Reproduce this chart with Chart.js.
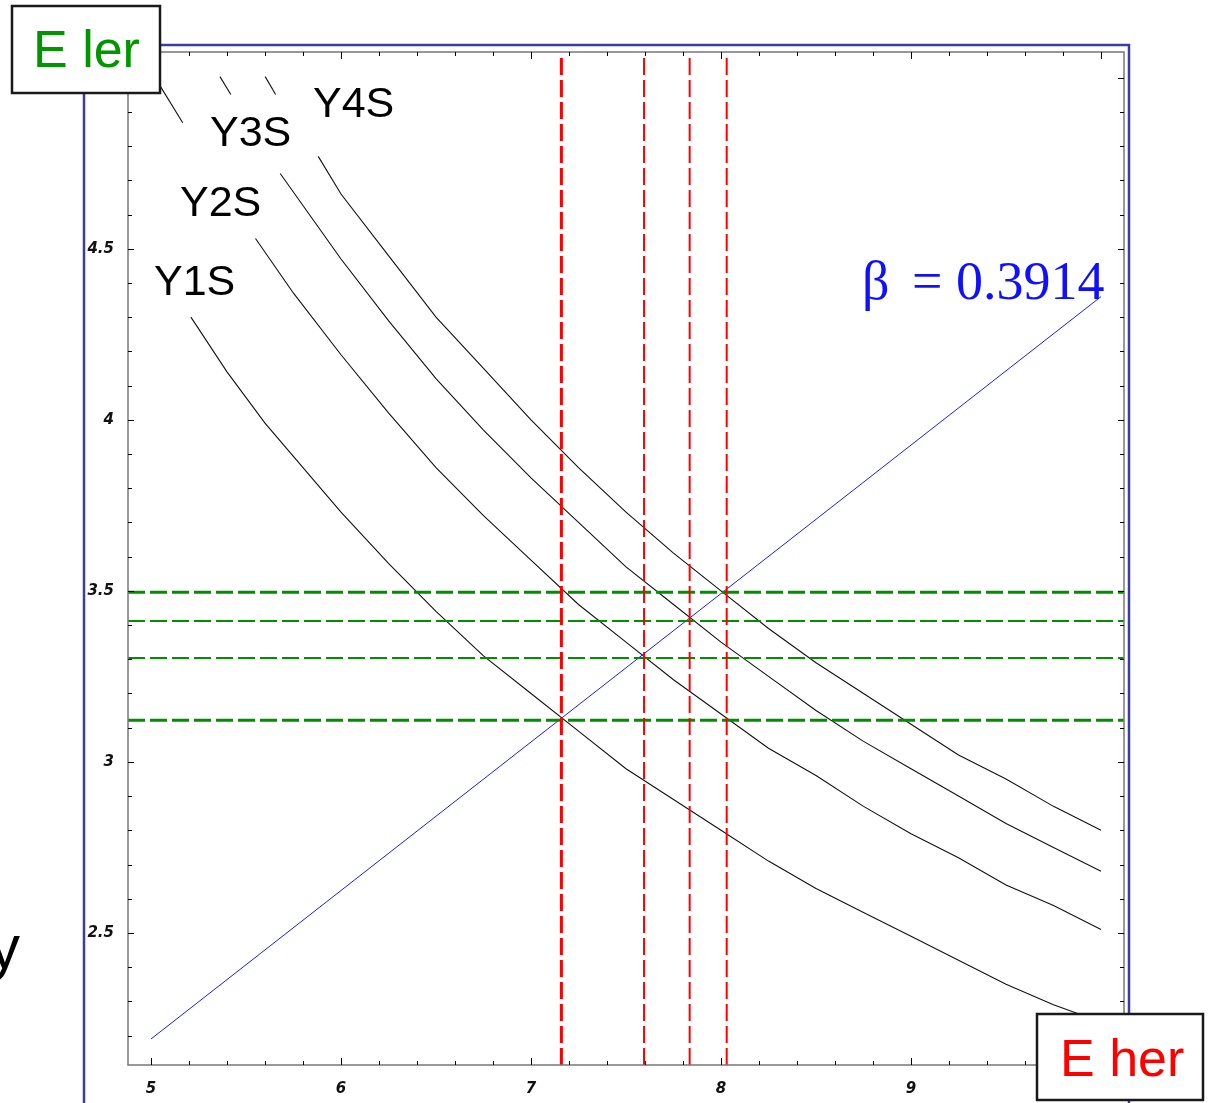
<!DOCTYPE html>
<html>
<head>
<meta charset="utf-8">
<script src="https://cdn.jsdelivr.net/npm/chart.js@4.4.1/dist/chart.umd.min.js"></script>
<style>
    html, body { margin: 0; padding: 0; background: #fff; }
    #wrap { width: 1210px; height: 1103px; position: relative; }
</style>
</head>
<body>
<div id="wrap"><canvas id="upsilonChart" width="1210" height="1103"></canvas></div>
<script>
// ========================================
// データ (E her = x, E ler = y, GeV)
// ========================================

// 軸の範囲
const xRange = [4.879, 10.121];
const yRange = [2.114, 5.075];

// 目盛り
const xMajorTicks = [5, 6, 7, 8, 9, 10];
const xTickLabels = ['5', '6', '7', '8', '9'];
const yMajorTicks = [2.5, 3, 3.5, 4, 4.5, 5];
const yTickLabels = ['2.5', '3', '3.5', '4', '4.5'];

// Y(1S)
const herY1S = [5.21, 5.4, 5.6, 5.8, 6.0, 6.25, 6.5, 6.75, 7.0, 7.25, 7.5, 7.75, 8.0, 8.25, 8.5, 8.75, 9.0, 9.25, 9.5, 9.75, 10.0];
const lerY1S = [4.30, 4.14, 3.99, 3.86, 3.73, 3.58, 3.44, 3.31, 3.20, 3.09, 2.98, 2.89, 2.80, 2.71, 2.63, 2.56, 2.49, 2.42, 2.35, 2.29, 2.24];

// Y(2S)
const herY2S = [5.55, 5.75, 6.0, 6.25, 6.5, 6.75, 7.0, 7.25, 7.5, 7.75, 8.0, 8.25, 8.5, 8.75, 9.0, 9.25, 9.5, 9.75, 10.0];
const lerY2S = [4.53, 4.37, 4.19, 4.02, 3.86, 3.72, 3.59, 3.46, 3.35, 3.24, 3.14, 3.04, 2.96, 2.87, 2.79, 2.72, 2.64, 2.58, 2.51];

// Y(3S)
const herY3S = [5.68, 6.0, 6.25, 6.5, 6.75, 7.0, 7.25, 7.5, 7.75, 8.0, 8.25, 8.5, 8.75, 9.0, 9.25, 9.5, 9.75, 10.0];
const lerY3S = [4.72, 4.47, 4.29, 4.12, 3.97, 3.83, 3.70, 3.57, 3.46, 3.35, 3.25, 3.15, 3.06, 2.98, 2.90, 2.82, 2.75, 2.68];

// Y(4S)
const herY4S = [5.88, 6.0, 6.25, 6.5, 6.75, 7.0, 7.25, 7.5, 7.75, 8.0, 8.25, 8.5, 8.75, 9.0, 9.25, 9.5, 9.75, 10.0];
const lerY4S = [4.77, 4.66, 4.48, 4.30, 4.15, 4.00, 3.86, 3.73, 3.61, 3.50, 3.39, 3.29, 3.20, 3.11, 3.02, 2.95, 2.87, 2.80];

// β = 0.3914 の直線
const herBeta = [5.0, 10.0];
const lerBeta = [2.19, 4.36];

// 交点のカット線
const herCuts = [7.16, 7.595, 7.835, 8.03];
const herCutWidths = [3, 2, 2, 2];
const lerCuts = [3.496, 3.412, 3.304, 3.122];
const lerCutWidths = [3, 2, 2, 3];

// 左上の短い線
const leaderHer = [[5.051, 5.167], [5.363, 5.420], [5.601, 5.656]];
const leaderLer = [[4.973, 4.868], [5.003, 4.951], [5.003, 4.951]];

// ========================================
// データセット作成
// ========================================

function toPoints(xs, ys) {
    return xs.map((v, i) => ({ x: v, y: ys[i] }));
}

function curveSet(xs, ys) {
    return {
        data: toPoints(xs, ys),
        borderColor: '#111',
        borderWidth: 1.1,
        pointRadius: 0,
        order: 5
    };
}

const datasets = [
    curveSet(herY1S, lerY1S),
    curveSet(herY2S, lerY2S),
    curveSet(herY3S, lerY3S),
    curveSet(herY4S, lerY4S),
    {
        data: toPoints(herBeta, lerBeta),
        borderColor: '#1a1aff',
        borderWidth: 1,
        pointRadius: 0,
        order: 4
    }
];

leaderHer.forEach((xs, i) => {
    datasets.push(curveSet(xs, leaderLer[i]));
});

lerCuts.forEach((v, i) => {
    datasets.push({
        data: toPoints(xRange, [v, v]),
        borderColor: '#008f00',
        borderWidth: lerCutWidths[i],
        borderDash: [17, 5],
        pointRadius: 0,
        order: 2
    });
});

herCuts.forEach((v, i) => {
    datasets.push({
        data: toPoints([v, v], [yRange[0], 5.067]),
        borderColor: '#ff0000',
        borderWidth: herCutWidths[i],
        borderDash: [17, 5],
        pointRadius: 0,
        order: 1
    });
});

// ========================================
// 枠・目盛り・ラベル描画プラグイン
// ========================================

function drawBox(ctx, x, y, w, h, text, color, tx, ty) {
    ctx.fillStyle = '#fff';
    ctx.fillRect(x, y, w, h);
    ctx.strokeStyle = '#1a1a1a';
    ctx.lineWidth = 2.5;
    ctx.strokeRect(x, y, w, h);
    ctx.fillStyle = color;
    ctx.font = '52px "Liberation Sans", Arial, sans-serif';
    ctx.textAlign = 'left';
    ctx.textBaseline = 'alphabetic';
    ctx.fillText(text, tx, ty);
}

const frameDecor = {
    id: 'frameDecor',
    afterDraw(chart) {
        const { ctx, chartArea: a, scales } = chart;
        const xs = scales.x, ys = scales.y;
        ctx.save();

        // 外側の青い枠
        ctx.strokeStyle = '#3c3ca6';
        ctx.lineWidth = 2.5;
        ctx.beginPath();
        ctx.moveTo(84, 1103);
        ctx.lineTo(84, 45);
        ctx.lineTo(1129, 45);
        ctx.lineTo(1129, 1103);
        ctx.stroke();

        // 灰色のフレーム
        ctx.strokeStyle = '#777';
        ctx.lineWidth = 1.5;
        ctx.strokeRect(a.left, a.top, a.right - a.left, a.bottom - a.top);

        // 目盛り
        ctx.strokeStyle = '#000';
        ctx.lineWidth = 1;
        ctx.beginPath();
        for (let v = 5.0; v <= 10.001; v += 0.2) {
            const major = xMajorTicks.some(t => Math.abs(t - v) < 1e-6);
            const len = major ? 7 : 4;
            const px = Math.round(xs.getPixelForValue(v)) + 0.5;
            ctx.moveTo(px, a.bottom); ctx.lineTo(px, a.bottom - len);
            ctx.moveTo(px, a.top); ctx.lineTo(px, a.top + len);
        }
        for (let v = 2.2; v <= 5.001; v += 0.1) {
            const major = yMajorTicks.some(t => Math.abs(t - v) < 1e-6);
            const len = major ? 6 : 4;
            const py = Math.round(ys.getPixelForValue(v)) + 0.5;
            ctx.moveTo(a.left, py); ctx.lineTo(a.left + len, py);
            ctx.moveTo(a.right, py); ctx.lineTo(a.right - len, py);
        }
        ctx.stroke();

        // 目盛りラベル
        ctx.fillStyle = '#111';
        ctx.font = 'italic bold 15px "DejaVu Sans", sans-serif';
        ctx.textBaseline = 'middle';
        ctx.textAlign = 'center';
        xTickLabels.forEach((lab, i) => {
            ctx.fillText(lab, xs.getPixelForValue(xMajorTicks[i]), 1089);
        });
        ctx.textAlign = 'right';
        yTickLabels.forEach((lab, i) => {
            ctx.fillText(lab, 114, ys.getPixelForValue(yMajorTicks[i]));
        });

        // 共鳴ラベル
        ctx.fillStyle = '#000';
        ctx.font = '43px "Liberation Sans", Arial, sans-serif';
        ctx.textAlign = 'left';
        ctx.textBaseline = 'alphabetic';
        ctx.fillText('Y4S', 313, 117);
        ctx.fillText('Y3S', 210, 146);
        ctx.fillText('Y2S', 180, 216);
        ctx.fillText('Y1S', 154, 295);

        // β ラベル
        ctx.fillStyle = '#1010ff';
        ctx.font = '54px "Liberation Serif", "Times New Roman", serif';
        ctx.fillText('β', 862, 299);
        ctx.fillText('=', 912, 299);
        ctx.fillText('0.3914', 956, 299);

        // 左端の文字
        ctx.fillStyle = '#000';
        ctx.font = '62px "Liberation Sans", Arial, sans-serif';
        ctx.fillText('y', -11, 968);

        // 軸名ボックス
        drawBox(ctx, 12, 6, 148, 87, 'E ler', '#009600', 33, 67);
        drawBox(ctx, 1037, 1014, 166, 86, 'E her', '#ff0000', 1060, 1076);

        ctx.restore();
    }
};

// ========================================
// チャート表示
// ========================================

let upsilonChartInstance = null;

window.addEventListener('DOMContentLoaded', () => {
    const ctx = document.getElementById('upsilonChart').getContext('2d');
    upsilonChartInstance = new Chart(ctx, {
        type: 'scatter',
        data: { datasets: datasets.map(d => Object.assign({ showLine: true, fill: false, tension: 0 }, d)) },
        options: {
            responsive: false,
            animation: false,
            devicePixelRatio: 1,
            layout: { padding: { left: 128, right: 86, top: 52, bottom: 38 } },
            plugins: {
                legend: { display: false },
                tooltip: { enabled: false }
            },
            scales: {
                x: { type: 'linear', min: xRange[0], max: xRange[1], display: false },
                y: { type: 'linear', min: yRange[0], max: yRange[1], display: false }
            }
        },
        plugins: [frameDecor]
    });
});
</script>
</body>
</html>
